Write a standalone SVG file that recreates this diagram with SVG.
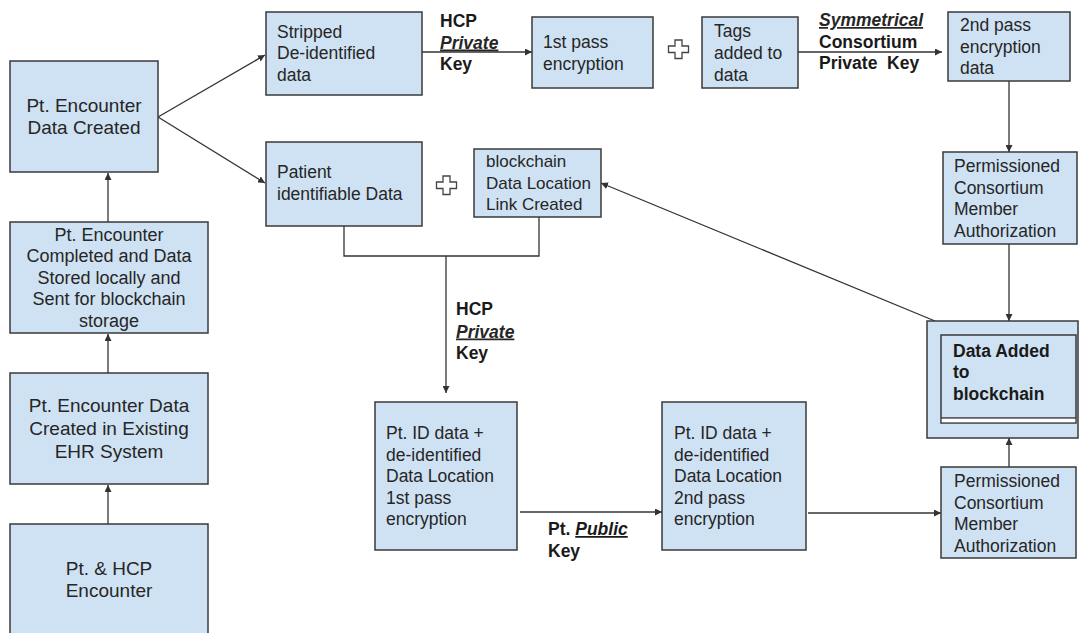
<svg xmlns="http://www.w3.org/2000/svg" width="1080" height="633" viewBox="0 0 1080 633">
<defs>
<marker id="ah" viewBox="0 0 10 10" refX="10" refY="5" markerWidth="7" markerHeight="7" markerUnits="userSpaceOnUse" orient="auto">
<path d="M0,0 L10,5 L0,10 z" fill="#333"/>
</marker>
<style>
.box{fill:#cfe2f3;stroke:#3a3a3a;stroke-width:1.5}
.t{font-family:"Liberation Sans",Arial,sans-serif;font-size:17.5px;fill:#262626}
.c{text-anchor:middle}
.b{font-weight:bold;fill:#1a1a1a}
.bi{font-weight:bold;font-style:italic;text-decoration:underline}
.ln{fill:none;stroke:#333;stroke-width:1.3}
.ar{marker-end:url(#ah)}
.plus{fill:#fff;stroke:#444;stroke-width:1.3}
</style>
</defs>
<rect width="1080" height="633" fill="#fff"/>

<g id="connectors">
<line class="ln ar" x1="108" y1="222" x2="108" y2="173"/>
<line class="ln ar" x1="108" y1="373" x2="108" y2="334"/>
<line class="ln ar" x1="108" y1="524" x2="108" y2="485"/>
<line class="ln ar" x1="158" y1="117" x2="265" y2="55"/>
<line class="ln ar" x1="158" y1="117" x2="265" y2="183"/>
<line class="ln ar" x1="422" y1="52" x2="532" y2="52"/>
<line class="ln ar" x1="798" y1="52" x2="942" y2="52"/>
<line class="ln ar" x1="1009" y1="81" x2="1009" y2="152"/>
<line class="ln ar" x1="1009" y1="244" x2="1009" y2="321"/>
<line class="ln ar" x1="1009" y1="467" x2="1009" y2="438"/>
<polyline class="ln" points="344,226 344,256 539,256 539,217"/>
<line class="ln ar" x1="446" y1="256" x2="446" y2="393"/>
<line class="ln ar" x1="520" y1="512" x2="662" y2="512"/>
<line class="ln ar" x1="808" y1="513" x2="941" y2="513"/>
<line class="ln ar" x1="935" y1="321" x2="601" y2="183"/>
</g>

<g id="pt-encounter-data-created">
<rect class="box" x="10" y="61" width="148" height="111"/>
<text class="t c" x="84" y="112" style="font-size:19px">Pt. Encounter</text>
<text class="t c" x="84" y="134" style="font-size:19px">Data Created</text>
</g>

<g id="pt-encounter-completed">
<rect class="box" x="10" y="222" width="198" height="111"/>
<text class="t c" x="109" y="240.5" style="font-size:18px">Pt. Encounter</text>
<text class="t c" x="109" y="262" style="font-size:18px">Completed and Data</text>
<text class="t c" x="109" y="283.5" style="font-size:18px">Stored locally and</text>
<text class="t c" x="109" y="305" style="font-size:18px">Sent for blockchain</text>
<text class="t c" x="109" y="326.5" style="font-size:18px">storage</text>
</g>

<g id="pt-encounter-ehr">
<rect class="box" x="10" y="373" width="198" height="111"/>
<text class="t c" x="109" y="412" style="font-size:19px">Pt. Encounter Data</text>
<text class="t c" x="109" y="435" style="font-size:19px">Created in Existing</text>
<text class="t c" x="109" y="458" style="font-size:19px">EHR System</text>
</g>

<g id="pt-hcp-encounter">
<rect class="box" x="10" y="524" width="198" height="115"/>
<text class="t c" x="109" y="575" style="font-size:19px">Pt. &amp; HCP</text>
<text class="t c" x="109" y="597" style="font-size:19px">Encounter</text>
</g>

<g id="stripped">
<rect class="box" x="266" y="12" width="156" height="83"/>
<text class="t" x="277" y="37.5">Stripped</text>
<text class="t" x="277" y="59">De-identified</text>
<text class="t" x="277" y="80.5">data</text>
</g>

<g id="label-hcp-private-1">
<text class="t b" x="440" y="27">HCP</text>
<text class="t bi" x="440" y="48.5">Private</text>
<text class="t b" x="440" y="70">Key</text>
</g>

<g id="first-pass">
<rect class="box" x="532" y="17" width="121" height="71"/>
<text class="t" x="543" y="48">1st pass</text>
<text class="t" x="543" y="70">encryption</text>
</g>

<g id="plus-1">
<path class="plus" d="M675,40 h7 v6 h6.5 v6.5 h-6.5 v6 h-7 v-6 h-6.5 v-6.5 h6.5 z"/>
</g>

<g id="tags">
<rect class="box" x="702" y="17" width="96" height="71"/>
<text class="t" x="714" y="37">Tags</text>
<text class="t" x="714" y="59">added to</text>
<text class="t" x="714" y="80.5">data</text>
</g>

<g id="label-symmetrical">
<text class="t bi" x="819" y="26">Symmetrical</text>
<text class="t b" x="819" y="47.5">Consortium</text>
<text class="t b" x="819" y="69" xml:space="preserve">Private  Key</text>
</g>

<g id="second-pass">
<rect class="box" x="948" y="12" width="122" height="69"/>
<text class="t" x="960" y="31">2nd pass</text>
<text class="t" x="960" y="53">encryption</text>
<text class="t" x="960" y="74">data</text>
</g>

<g id="permissioned-top">
<rect class="box" x="943" y="152" width="134" height="92"/>
<text class="t" x="954" y="172">Permissioned</text>
<text class="t" x="954" y="193.5">Consortium</text>
<text class="t" x="954" y="215">Member</text>
<text class="t" x="954" y="236.5">Authorization</text>
</g>

<g id="patient-identifiable">
<rect class="box" x="266" y="142" width="156" height="84"/>
<text class="t" x="277" y="178">Patient</text>
<text class="t" x="277" y="200">identifiable Data</text>
</g>

<g id="plus-2">
<path class="plus" d="M443,176 h7 v6 h6.5 v6.5 h-6.5 v6 h-7 v-6 h-6.5 v-6.5 h6.5 z"/>
</g>

<g id="blockchain-link">
<rect class="box" x="474" y="149" width="127" height="68"/>
<text class="t" x="486" y="167" style="font-size:17px">blockchain</text>
<text class="t" x="486" y="189" style="font-size:17px">Data Location</text>
<text class="t" x="486" y="210" style="font-size:17px">Link Created</text>
</g>

<g id="label-hcp-private-2">
<text class="t b" x="456" y="315">HCP</text>
<text class="t bi" x="456" y="337.5">Private</text>
<text class="t b" x="456" y="359">Key</text>
</g>

<g id="pt-id-first">
<rect class="box" x="375" y="402" width="142" height="148"/>
<text class="t" x="386" y="439">Pt. ID data +</text>
<text class="t" x="386" y="460.5">de-identified</text>
<text class="t" x="386" y="482">Data Location</text>
<text class="t" x="386" y="503.5">1st pass</text>
<text class="t" x="386" y="525">encryption</text>
</g>

<g id="label-pt-public">
<text class="t b" x="548" y="535">Pt. <tspan class="bi">Public</tspan></text>
<text class="t b" x="548" y="557">Key</text>
</g>

<g id="pt-id-second">
<rect class="box" x="662" y="402" width="144" height="148"/>
<text class="t" x="674" y="439">Pt. ID data +</text>
<text class="t" x="674" y="460.5">de-identified</text>
<text class="t" x="674" y="482">Data Location</text>
<text class="t" x="674" y="503.5">2nd pass</text>
<text class="t" x="674" y="525">encryption</text>
</g>

<g id="data-added">
<rect class="box" x="927" y="321" width="151" height="117"/>
<rect class="box" x="941" y="335" width="135" height="88"/>
<line x1="941" y1="418" x2="1076" y2="418" stroke="#3a3a3a" stroke-width="1.5"/>
<rect x="941.8" y="418.8" width="133.4" height="3.4" fill="#fff"/>
<text class="t b" x="953" y="357">Data Added</text>
<text class="t b" x="953" y="378">to</text>
<text class="t b" x="953" y="399.5">blockchain</text>
</g>

<g id="permissioned-bottom">
<rect class="box" x="941" y="467" width="135" height="91"/>
<text class="t" x="954" y="487">Permissioned</text>
<text class="t" x="954" y="508.5">Consortium</text>
<text class="t" x="954" y="530">Member</text>
<text class="t" x="954" y="551.5">Authorization</text>
</g>
</svg>
